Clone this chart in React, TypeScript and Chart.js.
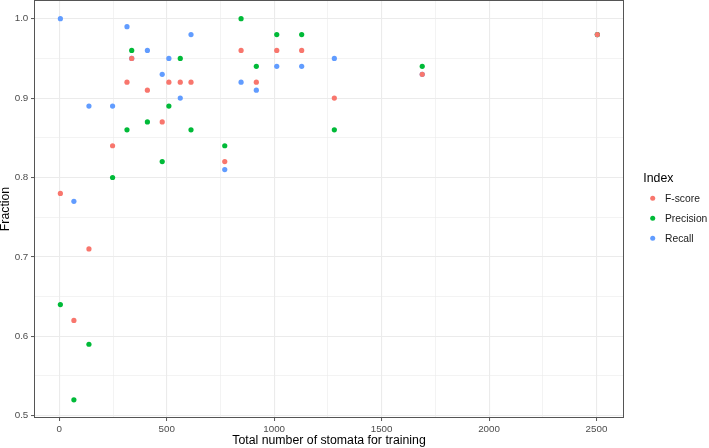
import React, { useEffect, useRef } from 'react';
import { Chart, registerables } from 'chart.js';

Chart.register(...registerables);

const FONT = "'Liberation Sans', Arial, Helvetica, sans-serif";

// Data
const stomataTotals = [5, 68, 138, 248, 315, 337, 410, 479, 510, 563, 613, 770, 846, 917, 1012, 1128, 1280, 1689, 2504];
const fScore = [0.78, 0.62, 0.71, 0.84, 0.92, 0.95, 0.91, 0.87, 0.92, 0.92, 0.92, 0.82, 0.96, 0.92, 0.96, 0.96, 0.90, 0.93, 0.98];
const precision = [0.64, 0.52, 0.59, 0.80, 0.86, 0.96, 0.87, 0.82, 0.89, 0.95, 0.86, 0.84, 1.00, 0.94, 0.98, 0.98, 0.86, 0.94, 0.98];
const recall = [1.00, 0.77, 0.89, 0.89, 0.99, 0.95, 0.96, 0.93, 0.95, 0.90, 0.98, 0.81, 0.92, 0.91, 0.94, 0.94, 0.95, 0.93, 0.98];

const seriesNames = ['F-score', 'Precision', 'Recall'];
const seriesColors = ['#F8766D', '#00BA38', '#619CFF'];

const xMajorTicks = [0, 500, 1000, 1500, 2000, 2500];
const xMinorTicks = [250, 750, 1250, 1750, 2250];
const xTickLabels = ['0', '500', '1000', '1500', '2000', '2500'];
const yMajorTicks = [0.5, 0.6, 0.7, 0.8, 0.9, 1.0];
const yMinorTicks = [0.55, 0.65, 0.75, 0.85, 0.95];
const yTickLabels = ['0.5', '0.6', '0.7', '0.8', '0.9', '1.0'];

const xTitle = 'Total number of stomata for training';
const yTitle = 'Fraction';
const legendTitle = 'Index';

const majorIndex = (list: number[], v: any) =>
  typeof v === 'number' ? list.findIndex((m) => Math.abs(m - v) < 1e-6) : -1;

const LINE_COL = '#555555';

const ggLegend = {
  id: 'ggLegend',
  afterDraw(chart: any) {
    const { ctx, chartArea } = chart;
    const midY = (chartArea.top + chartArea.bottom) / 2;
    ctx.save();
    ctx.textAlign = 'left';
    ctx.fillStyle = '#000000';
    ctx.font = `12.3px ${FONT}`;
    ctx.textBaseline = 'alphabetic';
    ctx.fillText(legendTitle, chartArea.right + 19.3, midY - 27.5);
    chart.data.datasets.forEach((ds: any, i: number) => {
      const y = midY - 10.7 + i * 20;
      ctx.beginPath();
      ctx.arc(chartArea.right + 28.7, y, 2.5, 0, Math.PI * 2);
      ctx.fillStyle = ds.pointBackgroundColor;
      ctx.fill();
      ctx.fillStyle = '#1A1A1A';
      ctx.font = `10.3px ${FONT}`;
      ctx.textBaseline = 'middle';
      ctx.fillText(ds.label, chartArea.right + 41, y + 0.5);
    });
    ctx.restore();
  },
};

const panelBorder = {
  id: 'panelBorder',
  afterDatasetsDraw(chart: any) {
    const { ctx, chartArea } = chart;
    ctx.save();
    ctx.strokeStyle = LINE_COL;
    ctx.lineWidth = 1;
    ctx.strokeRect(chartArea.left + 0.5, chartArea.top + 0.5, chartArea.right - chartArea.left - 1, chartArea.bottom - chartArea.top - 1);
    ctx.restore();
  },
};

export default function App() {
  const ref = useRef<HTMLCanvasElement>(null);

  useEffect(() => {
    const seriesValues = [fScore, precision, recall];
    const datasets = seriesNames.map((name, s) => ({
      label: name,
      data: stomataTotals.map((x, i) => ({ x, y: seriesValues[s][i] })),
      pointBackgroundColor: seriesColors[s],
      backgroundColor: seriesColors[s],
      pointBorderWidth: 0,
      pointRadius: 2.6,
      pointHoverRadius: 2.6,
      showLine: false,
    }));

    const chart = new Chart(ref.current as HTMLCanvasElement, {
      type: 'scatter',
      data: { datasets },
      plugins: [panelBorder, ggLegend],
      options: {
        animation: false,
        responsive: false,
        devicePixelRatio: 1,
        events: [],
        layout: { autoPadding: false, padding: { left: 0, top: 0, right: 85, bottom: 0 } },
        plugins: {
          legend: { display: false },
          tooltip: { enabled: false },
        },
        scales: {
          x: {
            type: 'linear',
            position: 'bottom',
            bounds: 'data',
            min: -117.7,
            max: 2628,
            afterBuildTicks: (scale: any) => {
              scale.ticks = [...xMajorTicks, ...xMinorTicks].sort((a, b) => a - b).map((value) => ({ value }));
            },
            afterFit: (scale: any) => {
              scale.height = 30;
              scale.paddingLeft = 0;
              scale.paddingRight = 0;
            },
            ticks: {
              autoSkip: false,
              maxRotation: 0,
              padding: 2.4,
              color: '#4D4D4D',
              font: { family: FONT, size: 9.8 },
              callback: (value: any) => {
                const i = majorIndex(xMajorTicks, value);
                return i >= 0 ? xTickLabels[i] : '';
              },
            },
            grid: {
              color: '#EBEBEB',
              lineWidth: (ctx: any) => (majorIndex(xMajorTicks, ctx.tick && ctx.tick.value) >= 0 ? 1.1 : 0.6),
              tickColor: (ctx: any) => (majorIndex(xMajorTicks, ctx.tick && ctx.tick.value) >= 0 ? LINE_COL : 'rgba(0,0,0,0)'),
              tickLength: 3,
              tickWidth: 1,
            },
            border: { display: false },
            title: {
              display: true,
              text: xTitle,
              color: '#000000',
              font: { family: FONT, size: 12.3 },
              padding: { top: 0, bottom: 0 },
            },
          },
          y: {
            type: 'linear',
            position: 'left',
            bounds: 'data',
            min: 0.4971,
            max: 1.02355,
            afterBuildTicks: (scale: any) => {
              scale.ticks = [...yMajorTicks, ...yMinorTicks].sort((a, b) => a - b).map((value) => ({ value }));
            },
            afterFit: (scale: any) => {
              scale.width = 34;
              scale.paddingTop = 0;
              scale.paddingBottom = 0;
            },
            ticks: {
              autoSkip: false,
              padding: 2.7,
              color: '#4D4D4D',
              font: { family: FONT, size: 9.8 },
              callback: (value: any) => {
                const i = majorIndex(yMajorTicks, value);
                return i >= 0 ? yTickLabels[i] : '';
              },
            },
            grid: {
              color: '#EBEBEB',
              lineWidth: (ctx: any) => (majorIndex(yMajorTicks, ctx.tick && ctx.tick.value) >= 0 ? 1.1 : 0.6),
              tickColor: (ctx: any) => (majorIndex(yMajorTicks, ctx.tick && ctx.tick.value) >= 0 ? LINE_COL : 'rgba(0,0,0,0)'),
              tickLength: 3,
              tickWidth: 1,
            },
            border: { display: false },
            title: {
              display: true,
              text: yTitle,
              color: '#000000',
              font: { family: FONT, size: 12.3, lineHeight: 0.9 },
              padding: 0,
            },
          },
        },
      } as any,
    });

    return () => chart.destroy();
  }, []);

  return (
    <div style={{ position: 'fixed', left: 0, top: 0, width: 709, height: 448, background: '#ffffff' }}>
      <canvas ref={ref} width={709} height={448} style={{ display: 'block', width: 709, height: 448 }} />
    </div>
  );
}
